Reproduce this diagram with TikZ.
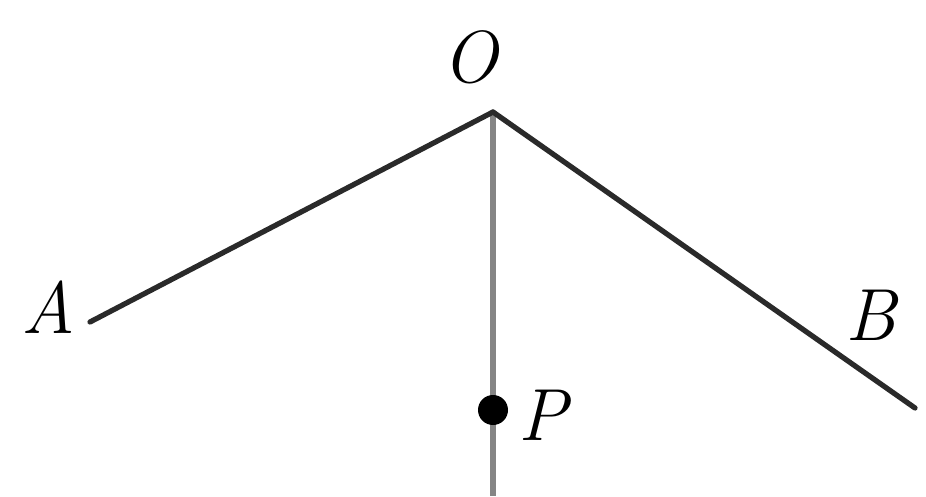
\documentclass[tikz,border=0pt]{standalone}
\usepackage{fontspec}
\usepackage{tikz}
\usetikzlibrary{positioning, calc}
\usepackage{xcolor}
\definecolor{RayGray}{HTML}{858585}
\definecolor{RayBlack}{HTML}{2A2A2A}

\begin{document}
\begin{tikzpicture}[
            font=\fontsize{21}{25}\selectfont\itshape,
            ray/.style={draw=RayBlack, line width=1.5pt, line cap=round},
            axis/.style={draw=RayGray, line width=1.8pt},
            ptlabel/.style={inner sep=0pt, anchor=center},
            dot/.style={circle, fill=black, inner sep=0pt, minimum size=0.3cm}
        ]
        \useasboundingbox (0,0) rectangle (9.26,4.96);

        % --- Points ---
        \coordinate (O) at (4.93,3.84);
        \coordinate (A) at (0.90,1.74);
        \coordinate (B) at (9.15,0.88);
        \coordinate (bot) at (4.93,0);
        \coordinate (P) at (4.93,0.86);

        % --- Rays ---
        \path[axis] (O) -- (bot);
        \path[ray] (O) -- (A);
        \path[ray] (O) -- (B);
        \node[dot] (Pdot) at (P) {};

        % --- Labels ---
        \node[ptlabel] (Olab) at (4.70,4.39) {O};
        \node[ptlabel] (Alab) at (0.48,1.89) {A};
        \node[ptlabel] (Blab) at (8.71,1.81) {B};
        \node[ptlabel] (Plab) at (5.43,0.81) {P};

        \end{tikzpicture}
\end{document}
